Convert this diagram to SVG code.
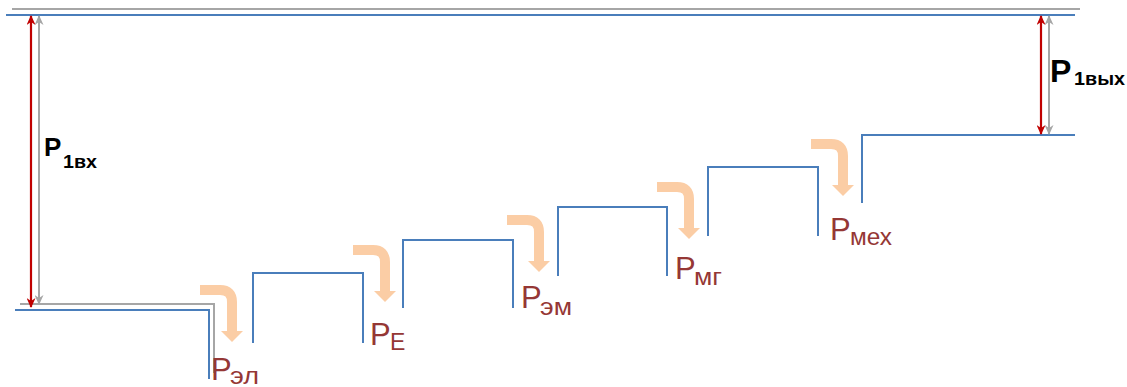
<svg xmlns="http://www.w3.org/2000/svg" width="1127" height="387" viewBox="0 0 1127 387">
<style>
.blue{fill:none;stroke:#4A7EBB;stroke-width:2}
.gray{fill:none;stroke:#A6A6A6;stroke-width:2}
.red{fill:none;stroke:#C00000;stroke-width:2.2}
.lbl{font-family:"Liberation Sans",Arial,sans-serif;fill:#953735}
.big{font-size:31px}
.sub{font-size:23px}
.blk{font-family:"Liberation Sans",Arial,sans-serif;font-weight:bold;fill:#000}
</style>
<defs>
<marker id="mr" viewBox="0 0 10 9" refX="9" refY="4.5" markerWidth="10" markerHeight="9" markerUnits="userSpaceOnUse" orient="auto-start-reverse"><path d="M0,0 L10,4.5 L0,9 L3,4.5 z" fill="#C00000"/></marker>
<marker id="mg" viewBox="0 0 10 9" refX="9" refY="4.5" markerWidth="10" markerHeight="9" markerUnits="userSpaceOnUse" orient="auto-start-reverse"><path d="M0,0 L10,4.5 L0,9 L3,4.5 z" fill="#A6A6A6"/></marker>
<g id="flow">
<path d="M0 5 H20 Q32 5 32 17 V47" fill="none" stroke="#FBCDA5" stroke-width="10"/>
<path d="M21 46 H43 L32 57 z" fill="#FBCDA5"/>
</g>
</defs>
<g id="levels">
<path class="gray" d="M12 9 H1080"/>
<path class="blue" d="M6 15 H1075"/>
<path class="gray" d="M20 304 H214 V373"/>
<path class="blue" d="M15 310 H209 V379"/>
</g>
<g id="steps">
<path class="blue" d="M253 343 V273 H363 V343"/>
<path class="blue" d="M403 308 V240 H513 V308"/>
<path class="blue" d="M558 276 V207 H667 V276"/>
<path class="blue" d="M708 236 V167 H818 V236"/>
<path class="blue" d="M862 203 V135 H1075"/>
</g>
<g id="connectors">
<path class="red" d="M31 16 V307" marker-start="url(#mr)" marker-end="url(#mr)"/>
<path class="gray" d="M39 16 V304" marker-start="url(#mg)" marker-end="url(#mg)"/>
<path class="red" d="M1041 16 V134" marker-start="url(#mr)" marker-end="url(#mr)"/>
<path class="gray" d="M1049 16 V134" marker-start="url(#mg)" marker-end="url(#mg)"/>
<use href="#flow" x="200" y="285"/>
<use href="#flow" x="353" y="245"/>
<use href="#flow" x="507" y="215"/>
<use href="#flow" x="657" y="182"/>
<use href="#flow" x="811" y="139"/>
</g>
<g id="label-p1vx">
<text class="blk" x="44" y="156" font-size="26">P</text>
<text class="blk" x="63" y="168" font-size="18" textLength="34" lengthAdjust="spacingAndGlyphs">1вх</text>
</g>
<g id="label-p1vyx">
<text class="blk" x="1050" y="82" font-size="32">P</text>
<text class="blk" x="1074" y="85" font-size="19" textLength="51" lengthAdjust="spacingAndGlyphs">1вых</text>
</g>
<g id="label-pel">
<text class="lbl big" x="211" y="380">P</text>
<text class="lbl sub" x="230" y="384" textLength="29" lengthAdjust="spacingAndGlyphs">эл</text>
</g>
<g id="label-pe">
<text class="lbl big" x="370" y="345">P</text>
<text class="lbl sub" x="390" y="350">E</text>
</g>
<g id="label-pem">
<text class="lbl big" x="521" y="308">P</text>
<text class="lbl sub" x="540" y="315" textLength="32" lengthAdjust="spacingAndGlyphs">эм</text>
</g>
<g id="label-pmg">
<text class="lbl big" x="675" y="279">P</text>
<text class="lbl sub" x="694" y="285" textLength="28" lengthAdjust="spacingAndGlyphs">мг</text>
</g>
<g id="label-pmex">
<text class="lbl big" x="830" y="240">P</text>
<text class="lbl sub" x="850" y="245" textLength="42" lengthAdjust="spacingAndGlyphs">мех</text>
</g>
</svg>
